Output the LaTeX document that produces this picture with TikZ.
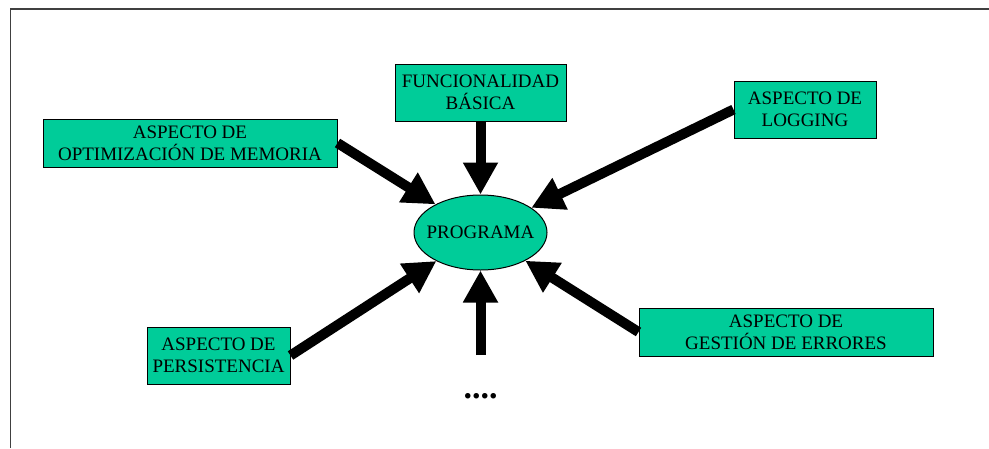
\documentclass[tikz,border=0pt]{standalone}
\usepackage{fontspec}
\setmainfont{Liberation Serif}
\usetikzlibrary{arrows.meta,shapes.geometric}
\definecolor{aspectgreen}{RGB}{0,204,153}
\begin{document}
\begin{tikzpicture}[x=1pt,y=-1pt,
  box/.style={draw=black,line width=1pt,fill=aspectgreen,inner sep=0pt,
    align=center,font=\fontsize{19}{22}\selectfont},
  core/.style={ellipse,draw=black,line width=1pt,fill=aspectgreen,inner sep=0pt,
    minimum width=133pt,minimum height=75pt},
  feed/.style={line width=10pt,-{Triangle[length=32pt,width=33pt]}}]
  \useasboundingbox (0,0) rectangle (989,448);
  % page frame, open to the right and bottom
  \draw[line width=1.5pt,black!75] (10.5,448) -- (10.5,9) -- (989,9);

  % central ellipse, its label set separately so the shape keeps its size
  \node[core] (prog) at (480.5,232.5) {};
  \node[font=\fontsize{19}{22}\selectfont,inner sep=0pt] (progtext) at (prog.center) {PROGRAMA};
  \node[box,minimum width=171pt,minimum height=57pt] (func) at (480.5,92.5)
    {FUNCIONALIDAD\\BÁSICA};
  \node[box,minimum width=294pt,minimum height=48pt] (opt) at (190,143)
    {ASPECTO DE\\OPTIMIZACIÓN DE MEMORIA};
  \node[box,minimum width=142pt,minimum height=57pt] (log) at (805,109.5)
    {ASPECTO DE\\LOGGING};
  \node[box,minimum width=143pt,minimum height=57pt] (pers) at (218.5,355.5)
    {ASPECTO DE\\PERSISTENCIA};
  \node[box,minimum width=294pt,minimum height=48pt] (err) at (786,332)
    {ASPECTO DE\\GESTIÓN DE ERRORES};
  \node[font=\fontsize{34}{34}\selectfont\bfseries,inner sep=0pt] (more) at (480.5,396) {....};
  \coordinate (morestart) at (480.5,355);

  \draw[feed] (func.south) -- (prog);
  \draw[feed] (opt.east) -- (prog);
  \draw[feed] (log.west) -- (prog);
  \draw[feed] (pers.east) -- (prog);
  \draw[feed] (err.west) -- (prog);
  \draw[feed] (morestart) -- (prog);
\end{tikzpicture}
\end{document}
